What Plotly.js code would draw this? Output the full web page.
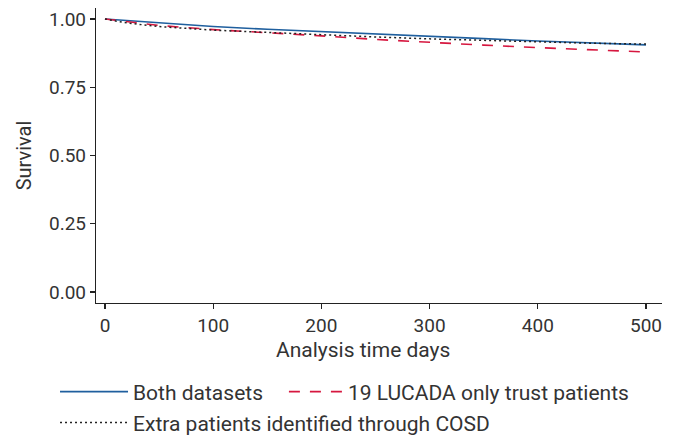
<!DOCTYPE html>
<html>
<head>
<meta charset="utf-8">
<script src="https://cdn.plot.ly/plotly-3.0.1.min.js"></script>
<style>html,body{margin:0;padding:0;background:#fff;}#chart{width:676px;height:436px;}</style>
</head>
<body>
<div id="chart"></div>
<script>
// Analysis time (days)
const timeBoth = [0, 25, 50, 100, 150, 200, 250, 300, 350, 400, 450, 500];
const survBoth = [1.0, 0.993, 0.985, 0.972, 0.962, 0.954, 0.946, 0.937, 0.928, 0.919, 0.911, 0.905];

const timeLucada = [0, 25, 50, 100, 150, 200, 250, 300, 350, 400, 450, 500];
const survLucada = [1.0, 0.987, 0.976, 0.961, 0.950, 0.938, 0.925, 0.914, 0.904, 0.895, 0.887, 0.879];

const timeCosd = [0, 10, 25, 50, 100, 150, 200, 250, 300, 350, 400, 450, 500];
const survCosd = [1.0, 0.992, 0.983, 0.972, 0.959, 0.950, 0.942, 0.934, 0.927, 0.921, 0.915, 0.911, 0.908];

const seriesNames = ["Both datasets", "19 LUCADA only trust patients", "Extra patients identified through COSD"];
const xTitle = "Analysis time days";
const yTitle = "Survival";
const xTicks = [0, 100, 200, 300, 400, 500];
const yTicks = [0, 0.25, 0.5, 0.75, 1.0];
const yTickText = ["0.00", "0.25", "0.50", "0.75", "1.00"];

const textColor = "#333333";
const fontFam = "Roboto, 'DejaVu Sans', sans-serif";

const traces = [
  {x: timeBoth, y: survBoth, name: seriesNames[0], type: "scatter", mode: "lines",
   line: {color: "#1f5f9e", width: 1.6}, legend: "legend"},
  {x: timeLucada, y: survLucada, name: seriesNames[1], type: "scatter", mode: "lines",
   line: {color: "#d6173f", width: 1.6, dash: "11px,10px"}, legend: "legend3"},
  {x: timeCosd, y: survCosd, name: seriesNames[2], type: "scatter", mode: "lines",
   line: {color: "#222222", width: 1.5, dash: "2px,3px"}, legend: "legend2"}
];

const legendBase = {
  orientation: "h", xanchor: "left", yanchor: "top",
  itemwidth: 68, font: {size: 21, color: textColor}, traceorder: "normal",
  bgcolor: "rgba(0,0,0,0)", borderwidth: 0
};

const layout = {
  width: 676, height: 436,
  margin: {l: 96, r: 14, t: 8, b: 133, autoexpand: false},
  paper_bgcolor: "#ffffff", plot_bgcolor: "#ffffff",
  font: {family: fontFam, color: textColor, size: 20},
  showlegend: true,
  legend: Object.assign({}, legendBase, {x: -0.0724, y: -0.232}),
  legend3: Object.assign({}, legendBase, {x: 0.332, y: -0.232, itemwidth: 54}),
  legend2: Object.assign({}, legendBase, {x: -0.0724, y: -0.337}),
  xaxis: {
    range: [-8.3, 514.8], tickvals: xTicks, ticks: "outside", ticklen: 5, tickwidth: 1.2,
    tickcolor: "#222", showline: true, linecolor: "#222", linewidth: 1.2,
    showgrid: false, zeroline: false, tickfont: {size: 19, color: textColor}
  },
  yaxis: {
    range: [-0.040, 1.040], tickvals: yTicks, ticktext: yTickText, ticks: "outside", ticklen: 5, tickwidth: 1.2,
    tickcolor: "#222", showline: true, linecolor: "#222", linewidth: 1.2,
    showgrid: false, zeroline: false, tickfont: {size: 19, color: textColor},
    title: {text: yTitle, font: {size: 20, color: textColor}, standoff: 12}
  },
  annotations: [
    {text: xTitle, xref: "paper", yref: "paper", x: 0.4717, y: -0.159,
     xanchor: "center", yanchor: "middle", showarrow: false,
     font: {size: 21, color: textColor}}
  ]
};

Plotly.newPlot("chart", traces, layout, {displayModeBar: false, staticPlot: true});
</script>
</body>
</html>
